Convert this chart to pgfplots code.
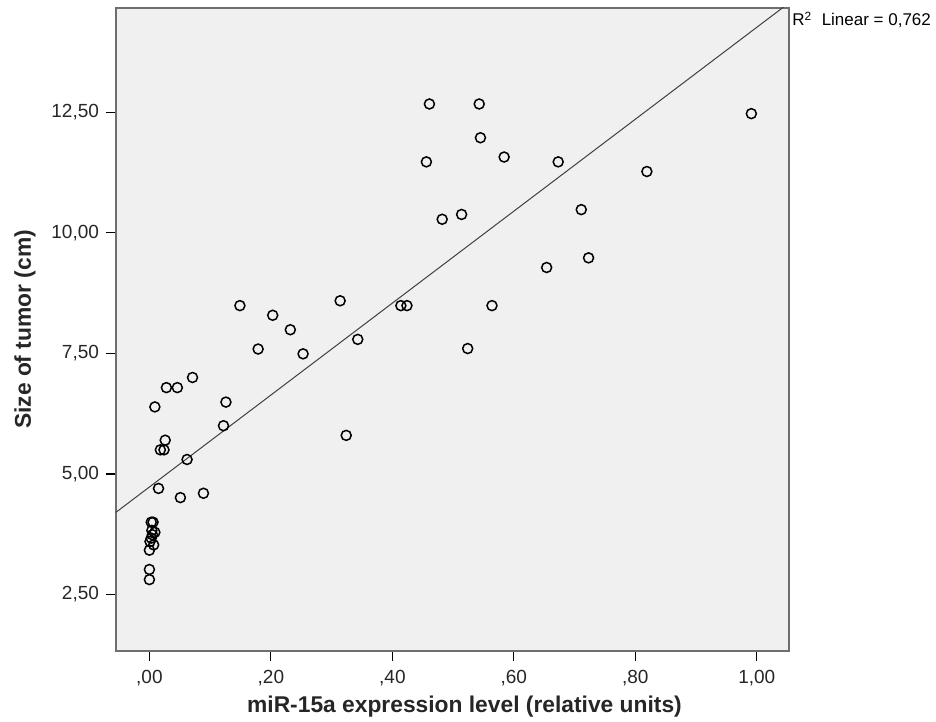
\documentclass[border=0pt]{standalone}
\usepackage{pgfplots}
\pgfplotsset{compat=1.18}
\usepackage{fontspec}
\setmainfont{Liberation Sans}
\definecolor{bgfill}{HTML}{F0F0F0}
\definecolor{frame}{HTML}{6E6E6E}
\definecolor{fitline}{HTML}{404040}
\begin{document}
\begin{tikzpicture}
  \begin{axis}[
      name=ax,
      width=336.5pt, height=321.5pt,
      scale only axis,
      xmin=-0.055, xmax=1.053,
      ymin=1.33, ymax=14.66,
      axis background/.style={fill=bgfill},
      axis line style={frame, line width=0.8pt},
      tick style={black, line width=0.6pt},
      tick align=outside,
      major tick length=5pt,
      xtick pos=bottom, ytick pos=left,
      xtick={0,0.2,0.4,0.6,0.8,1.0},
      xticklabels={{,00},{,20},{,40},{,60},{,80},{1,00}},
      ytick={2.5,5,7.5,10,12.5},
      yticklabels={{2,50},{5,00},{7,50},{10,00},{12,50}},
      ticklabel style={font=\fontsize{9.5}{11}\selectfont, text=black!85},
      xticklabel style={yshift=-1pt},
      xlabel={\textbf{miR-15a expression level (relative units)}},
      ylabel={\textbf{Size of tumor (cm)}},
      label style={font=\fontsize{11.4}{13}\selectfont, text=black!85},
      xlabel style={at={(rel axis cs:0.5,0)}, anchor=center, yshift=-28pt, xshift=6pt},
      ylabel style={at={(rel axis cs:-0.1352,0.5)}, anchor=center},
      clip=true,
    ]
    % fit line
    \addplot[fitline, line width=0.5pt] coordinates {(-0.06,4.158) (1.06,14.832)};
    % data
    \addplot[only marks, mark=o, mark size=2.5pt, mark options={black, line width=0.75pt}]
      coordinates {
      (0.003,4.00) (0.006,4.00) (0.004,3.83) (0.009,3.79) (0.005,3.74)
      (0.003,3.67) (0.001,3.60) (0.007,3.53) (0.000,3.42) (0.000,3.02)
      (0.000,2.81)
      (0.071,7.00) (0.028,6.79) (0.046,6.79) (0.009,6.39) (0.026,5.70)
      (0.018,5.50) (0.024,5.50) (0.062,5.30) (0.015,4.70) (0.051,4.51)
      (0.089,4.60)
      (0.149,8.49) (0.203,8.29) (0.232,7.99) (0.179,7.59) (0.253,7.49)
      (0.314,8.59) (0.343,7.79) (0.126,6.49) (0.122,6.00) (0.324,5.80)
      (0.461,12.67) (0.543,12.67) (0.545,11.97) (0.456,11.47) (0.584,11.57)
      (0.673,11.47) (0.991,12.47) (0.819,11.27) (0.482,10.28) (0.514,10.38)
      (0.711,10.48) (0.723,9.48) (0.654,9.28) (0.414,8.49) (0.424,8.49)
      (0.564,8.49) (0.524,7.60)
      };
  \end{axis}
  \node[anchor=west, font=\fontsize{8.5}{10}\selectfont, inner sep=0pt]
    at ([shift={(1.5pt,-6pt)}]ax.north east) {R\textsuperscript{2}\ \ Linear = 0,762};
  \pgfresetboundingbox
  \path ([shift={(-58pt,-35.5pt)}]ax.south west) rectangle ([shift={(73.5pt,4pt)}]ax.north east);
\end{tikzpicture}
\end{document}
